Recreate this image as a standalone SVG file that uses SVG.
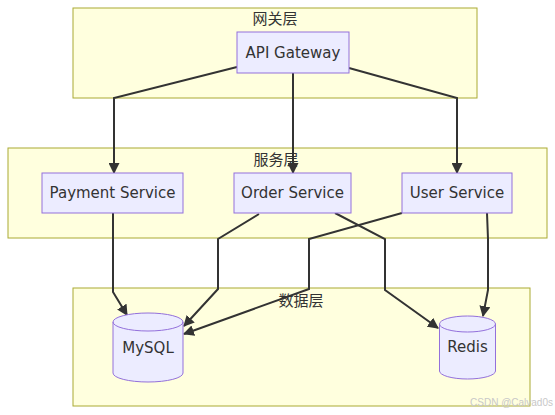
<svg xmlns="http://www.w3.org/2000/svg" width="555" height="415" viewBox="0 0 555 415">
<style>
.cluster{fill:#ffffde;stroke:#aaaa33;stroke-width:1}
.node{fill:#ececff;stroke:#9370db;stroke-width:1}
.lbl{font-family:"DejaVu Sans","Noto Sans CJK SC",sans-serif;font-size:15px;fill:#333;text-anchor:middle}
.clbl{font-family:"Noto Sans CJK SC",sans-serif;font-size:15px;fill:#333;text-anchor:middle}
.edge{fill:none;stroke:#333;stroke-width:2;marker-end:url(#arrow)}
</style>
<defs>
<marker id="arrow" viewBox="0 0 10 10" refX="9" refY="5" markerWidth="11" markerHeight="11" markerUnits="userSpaceOnUse" orient="auto">
<path d="M0,0 L10,5 L0,10 z" fill="#333"/>
</marker>
</defs>
<rect width="555" height="415" fill="#ffffff"/>
<g id="cluster-gateway">
<rect class="cluster" x="73" y="8" width="404" height="90"/>
<text class="clbl" x="275" y="24">网关层</text>
</g>
<g id="cluster-service">
<rect class="cluster" x="8" y="148" width="539" height="90"/>
<text class="clbl" x="276" y="165">服务层</text>
</g>
<g id="cluster-data">
<rect class="cluster" x="73" y="288" width="457" height="118"/>
<text class="clbl" x="301" y="306">数据层</text>
</g>
<g id="connectors">
<polyline class="edge" points="237,67 114,98 114,173"/>
<polyline class="edge" points="293,73 293,173"/>
<polyline class="edge" points="349,68 457,98 457,173"/>
<polyline class="edge" points="113,213 113,292 127,315"/>
<polyline class="edge" points="259,214 218,239 218,289 184,326"/>
<polyline class="edge" points="402,213 309,239 309,289 184,334"/>
<polyline class="edge" points="335,213 385,239 385,290 438,328"/>
<polyline class="edge" points="487,213 488,239 488,290 483,316"/>
</g>
<g id="node-gateway">
<rect class="node" x="237" y="32" width="112" height="41"/>
<text class="lbl" x="293" y="58">API Gateway</text>
</g>
<g id="node-payment">
<rect class="node" x="42" y="173" width="141" height="40"/>
<text class="lbl" x="112.5" y="198">Payment Service</text>
</g>
<g id="node-order">
<rect class="node" x="234" y="173" width="117" height="40"/>
<text class="lbl" x="292.5" y="198">Order Service</text>
</g>
<g id="node-user">
<rect class="node" x="402" y="173" width="110" height="40"/>
<text class="lbl" x="457" y="198">User Service</text>
</g>
<g id="node-mysql">
<path class="node" d="M113,322 a35,9 0 0 1 70,0 V373 a35,9 0 0 1 -70,0 Z"/>
<path d="M113,322 a35,9 0 0 0 70,0" fill="none" stroke="#9370db" stroke-width="1"/>
<text class="lbl" x="148" y="353">MySQL</text>
</g>
<g id="node-redis">
<path class="node" d="M439.5,324 a28,8 0 0 1 56,0 V371 a28,8 0 0 1 -56,0 Z"/>
<path d="M439.5,324 a28,8 0 0 0 56,0" fill="none" stroke="#9370db" stroke-width="1"/>
<text class="lbl" x="467.5" y="352">Redis</text>
</g>
<text x="553" y="406" font-family="Liberation Sans,sans-serif" font-size="10" fill="#c8c8c8" text-anchor="end">CSDN @Calvad0s</text>
</svg>
